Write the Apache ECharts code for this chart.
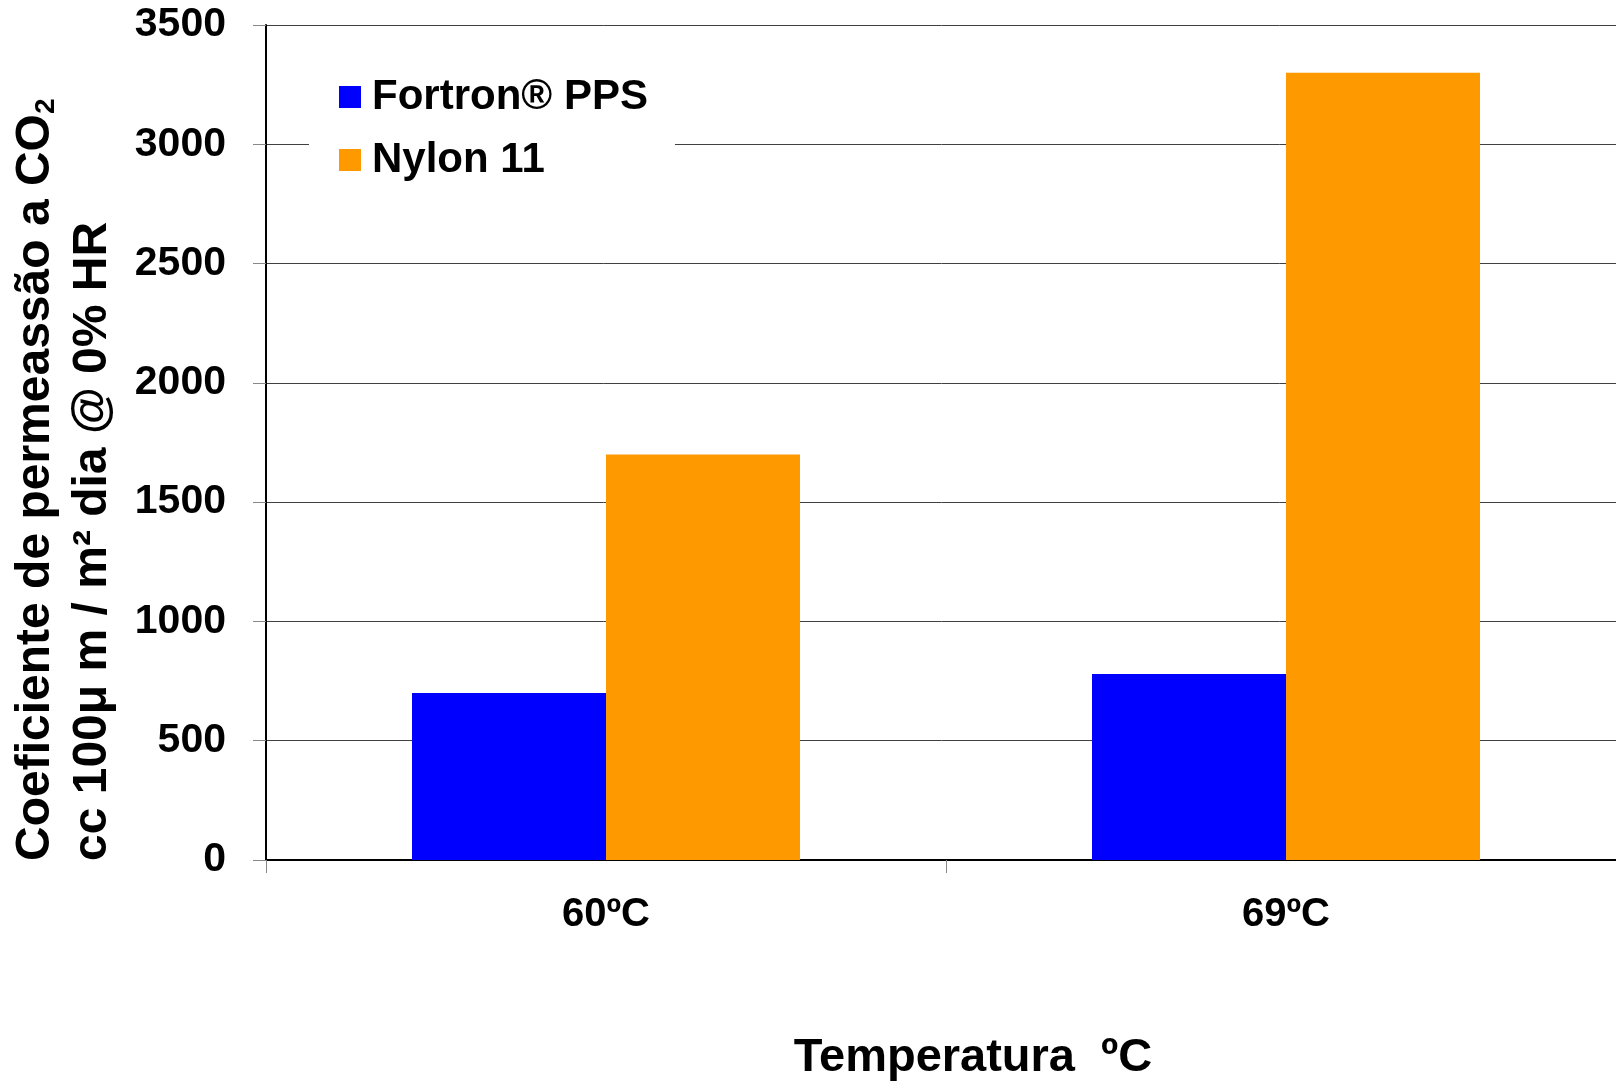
<!DOCTYPE html>
<html>
<head>
<meta charset="utf-8">
<script src="https://cdn.jsdelivr.net/npm/echarts@6/dist/echarts.min.js"></script>
<style>
html,body{margin:0;padding:0;background:#fff;}
#chart{width:1616px;height:1082px;}
</style>
</head>
<body>
<div id="chart"></div>
<script>
var categories = ['60ºC', '69ºC'];
var seriesNames = ['Fortron® PPS', 'Nylon 11'];
var fortronValues = [700, 780];
var nylonValues = [1700, 3300];
var yTicks = [0, 500, 1000, 1500, 2000, 2500, 3000, 3500];
var xTitle = 'Temperatura  ºC';
var yTitleLine1 = 'Coeficiente de permeassão a CO{sub|2}';
var yTitleLine2 = 'cc 100μ m / m² dia @ 0% HR';

var FONT = 'Liberation Sans, Arial, sans-serif';
var chart = echarts.init(document.getElementById('chart'), null, {renderer: 'canvas'});
var option = {
  backgroundColor: '#ffffff',
  animation: false,
  grid: {left: 266, top: 25, width: 1360, height: 835, containLabel: false, outerBoundsMode: 'none'},
  legend: {
    orient: 'vertical',
    left: 309, top: 66,
    padding: [10, 27, 10, 30],
    backgroundColor: '#ffffff',
    itemWidth: 22, itemHeight: 22, itemGap: 21,
    icon: 'rect',
    textStyle: {fontFamily: FONT, fontWeight: 'bold', fontSize: 42, color: '#000', padding: [0, 0, 0, 6]},
    data: seriesNames
  },
  xAxis: {
    type: 'category',
    data: categories,
    axisLine: {lineStyle: {color: '#000', width: 2}},
    axisTick: {show: true, length: 13, lineStyle: {color: '#888', width: 1}},
    axisLabel: {fontFamily: FONT, fontWeight: 'bold', fontSize: 40, color: '#000', margin: 35},
    name: xTitle,
    nameLocation: 'middle',
    nameGap: 175,
    nameTextStyle: {fontFamily: FONT, fontWeight: 'bold', fontSize: 47, color: '#000', padding: [0, 0, 0, 54]}
  },
  yAxis: {
    type: 'value',
    min: yTicks[0], max: yTicks[yTicks.length - 1], interval: 500,
    axisLine: {show: true, lineStyle: {color: '#000', width: 2}},
    axisTick: {show: true, length: 13, lineStyle: {color: '#888', width: 1}},
    axisLabel: {fontFamily: FONT, fontWeight: 'bold', fontSize: 41, color: '#000', margin: 40,
      formatter: function (v) { return String(v); }},
    splitLine: {show: true, lineStyle: {color: '#404040', width: 1}}
  },
  series: [
    {name: seriesNames[0], type: 'bar', data: fortronValues, barWidth: 194, barGap: '0%',
     itemStyle: {color: '#0000ff'}},
    {name: seriesNames[1], type: 'bar', data: nylonValues, barWidth: 194, barGap: '0%',
     itemStyle: {color: '#ff9900'}}
  ],
  graphic: [
    {type: 'text', x: 36, y: 861, rotation: Math.PI / 2,
     style: {text: yTitleLine1, fill: '#000', font: 'bold 48px ' + FONT, align: 'left', verticalAlign: 'middle',
       rich: {sub: {fontFamily: FONT, fontWeight: 'bold', fontSize: 28, fill: '#000', lineHeight: 14, verticalAlign: 'bottom'}}}},
    {type: 'text', x: 93, y: 861, rotation: Math.PI / 2,
     style: {text: yTitleLine2, fill: '#000', font: 'bold 48px ' + FONT, align: 'left', verticalAlign: 'middle'}}
  ]
};
chart.setOption(option);
</script>
</body>
</html>
